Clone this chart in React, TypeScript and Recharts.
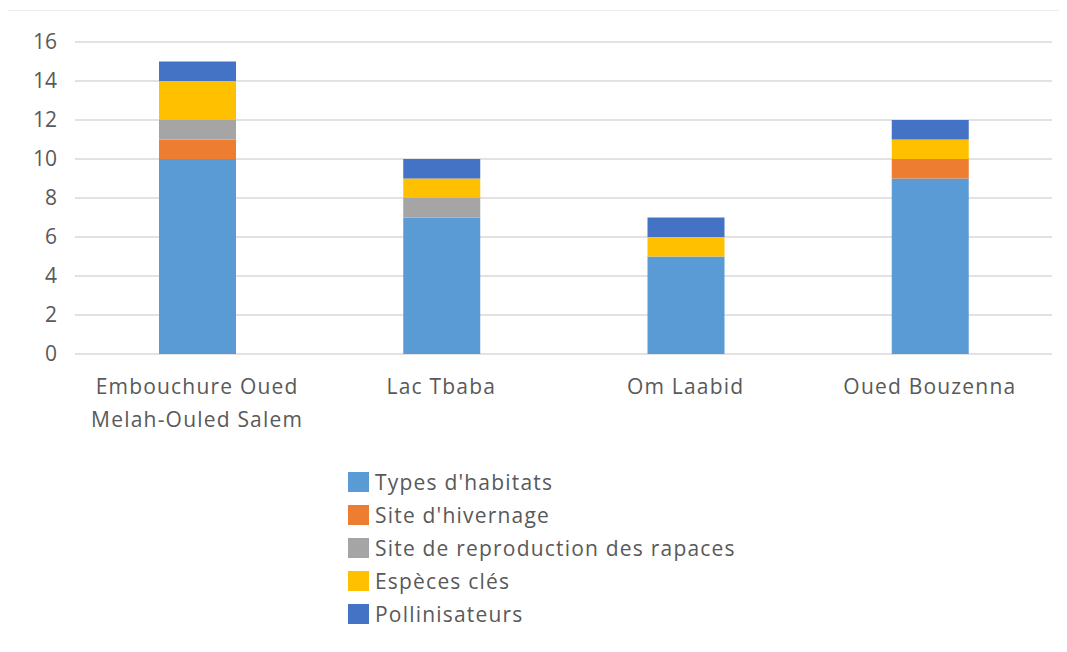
import React from "react";
import { BarChart, Bar, XAxis, YAxis, CartesianGrid, Legend } from "recharts";

const sites = [
  "Embouchure Oued\nMelah-Ouled Salem",
  "Lac Tbaba",
  "Om Laabid",
  "Oued Bouzenna",
];
const habitats = [10, 7, 5, 9];
const hivernage = [1, 0, 0, 1];
const reproduction = [1, 1, 0, 0];
const especes = [2, 1, 1, 1];
const pollinisateurs = [1, 1, 1, 1];
const yTicks = [0, 2, 4, 6, 8, 10, 12, 14, 16];

const seriesList = [
  { key: "habitats", name: "Types d'habitats", color: "#5B9BD5" },
  { key: "hivernage", name: "Site d'hivernage", color: "#ED7D31" },
  { key: "reproduction", name: "Site de reproduction des rapaces", color: "#A5A5A5" },
  { key: "especes", name: "Espèces clés", color: "#FFC000" },
  { key: "pollinisateurs", name: "Pollinisateurs", color: "#4472C4" },
];

const data = sites.map((site, i) => ({
  site,
  habitats: habitats[i],
  hivernage: hivernage[i],
  reproduction: reproduction[i],
  especes: especes[i],
  pollinisateurs: pollinisateurs[i],
}));

const FONT = "'Open Sans', sans-serif";
const TEXT = "#595959";

function SiteTick({ x, y, payload }: any) {
  const lines = String(payload.value).split("\n");
  return (
    <text
      x={x}
      y={y}
      textAnchor="middle"
      fill={TEXT}
      fontSize={21}
      letterSpacing={1.2}
      fontFamily={FONT}
    >
      {lines.map((l, i) => (
        <tspan key={i} x={x} dy={i === 0 ? 32 : 33}>
          {l}
        </tspan>
      ))}
    </text>
  );
}

function LegendBox() {
  return (
    <div style={{ paddingLeft: 340, paddingTop: 6, fontFamily: FONT }}>
      {seriesList.map((s) => (
        <div key={s.key} style={{ display: "flex", alignItems: "center", height: 33 }}>
          <span style={{ width: 21, height: 20, background: s.color, marginRight: 6 }} />
          <span style={{ fontSize: 21, letterSpacing: 1.2, color: TEXT }}>{s.name}</span>
        </div>
      ))}
    </div>
  );
}

export default function App() {
  return (
    <div
      style={{
        width: 1051,
        height: 636,
        paddingTop: 2,
        boxSizing: "border-box",
      }}
    >
      <div style={{ borderTop: "1px solid #ececec" }}>
        <BarChart
          width={1051}
          height={633}
          data={data}
          margin={{ top: 31, right: 7, left: 0, bottom: 15 }}
        >
          <CartesianGrid vertical={false} stroke="#D9D9D9" strokeWidth={1.3} />
          <XAxis
            dataKey="site"
            axisLine={false}
            tickLine={false}
            interval={0}
            height={105}
            tick={<SiteTick />}
          />
          <YAxis
            width={67}
            domain={[0, 16]}
            ticks={yTicks}
            axisLine={false}
            tickLine={false}
            tickMargin={12}
            tick={{ fill: TEXT, fontSize: 21, fontFamily: FONT }}
          />
          <Legend
            verticalAlign="bottom"
            align="left"
            content={<LegendBox />}
            wrapperStyle={{ height: 170 }}
          />
          {seriesList.map((s) => (
            <Bar
              key={s.key}
              dataKey={s.key}
              name={s.name}
              stackId="a"
              fill={s.color}
              barSize={77}
              isAnimationActive={false}
            />
          ))}
        </BarChart>
      </div>
    </div>
  );
}
